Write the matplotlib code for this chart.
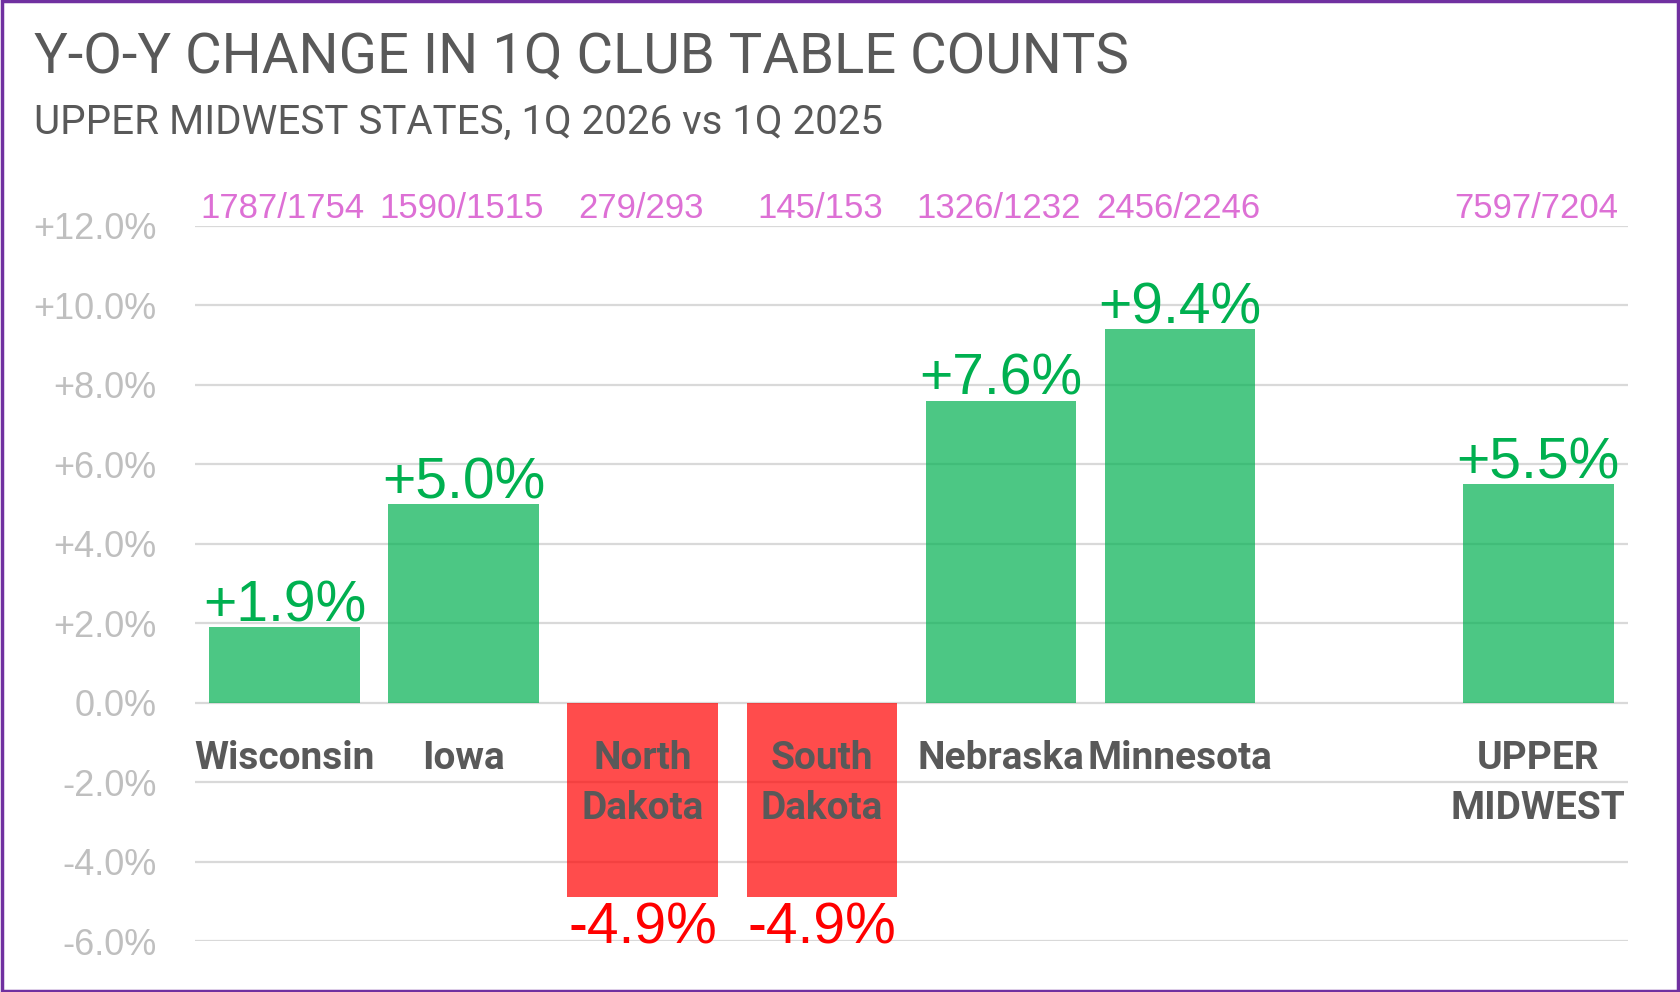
import numpy as np
import matplotlib.pyplot as plt
from matplotlib.patches import Rectangle

# data
states = ["Wisconsin", "Iowa", "North\nDakota", "South\nDakota", "Nebraska", "Minnesota", "", "UPPER\nMIDWEST"]
changes = [1.9, 5.0, -4.9, -4.9, 7.6, 9.4, None, 5.5]
counts = ["1787/1754", "1590/1515", "279/293", "145/153", "1326/1232", "2456/2246", "", "7597/7204"]
yticks = [-6, -4, -2, 0, 2, 4, 6, 8, 10, 12]

HEAD = ["Roboto", "DejaVu Sans"]
REG = ["Liberation Sans", "DejaVu Sans"]

fig = plt.figure(figsize=(16.8, 9.92), dpi=100)
ax = fig.add_axes([0.116, 0.0514, 0.853, 0.7208])

x = np.arange(len(states))
for xi, v in zip(x, changes):
    if v is None:
        continue
    col = "#00B050" if v >= 0 else "#FF0000"
    ax.bar(xi, v, width=0.84, color=col, alpha=0.7, zorder=2)
    lab = f"{v:+.1f}%"
    if v >= 0:
        ax.annotate(lab, (xi, v), xytext=(0, 6), textcoords="offset pixels",
                    ha="center", va="baseline", fontsize=41, color=col, family=REG)
    else:
        ax.annotate(lab, (xi, v), xytext=(0, -4), textcoords="offset pixels",
                    ha="center", va="top", fontsize=41, color=col, family=REG)

for xi, name, c in zip(x, states, counts):
    if not name:
        continue
    ax.text(xi, -0.93, name, ha="center", va="top", fontsize=28, fontweight="bold",
            color="#595959", family=HEAD, linespacing=1.45, zorder=3)
    ax.annotate(c, (xi, 12), xytext=(-2, 8), textcoords="offset pixels",
                ha="center", va="baseline", fontsize=25, color="#DD70D5", family=REG)

ax.set_xlim(-0.5, len(states) - 0.5)
ax.set_ylim(-6, 12)
ax.set_yticks(yticks)
ax.set_yticklabels([f"{t:+.1f}%" if t > 0 else f"{t:.1f}%" for t in yticks],
                   fontsize=26, color="#BFBFBF", family=REG)
ax.tick_params(axis="y", length=0, pad=27.5)
ax.set_xticks([])
ax.grid(axis="y", color="#D9D9D9", linewidth=1.6, zorder=0)
ax.set_axisbelow(True)
for s in ax.spines.values():
    s.set_visible(False)

fig.text(34 / 1680, 1 - 73 / 992, "Y-O-Y CHANGE IN 1Q CLUB TABLE COUNTS", fontsize=40.5,
         color="#595959", family=HEAD, va="baseline")
fig.text(34 / 1680, 1 - 134 / 992, "UPPER MIDWEST STATES, 1Q 2026 vs 1Q 2025", fontsize=29,
         color="#595959", family=HEAD, va="baseline")

fig.patches.append(Rectangle((0.001, 0.001), 0.998, 0.998, transform=fig.transFigure,
                             fill=False, edgecolor="#7030A0", linewidth=2.5))

fig.savefig("out.png", dpi=100, facecolor="white")
